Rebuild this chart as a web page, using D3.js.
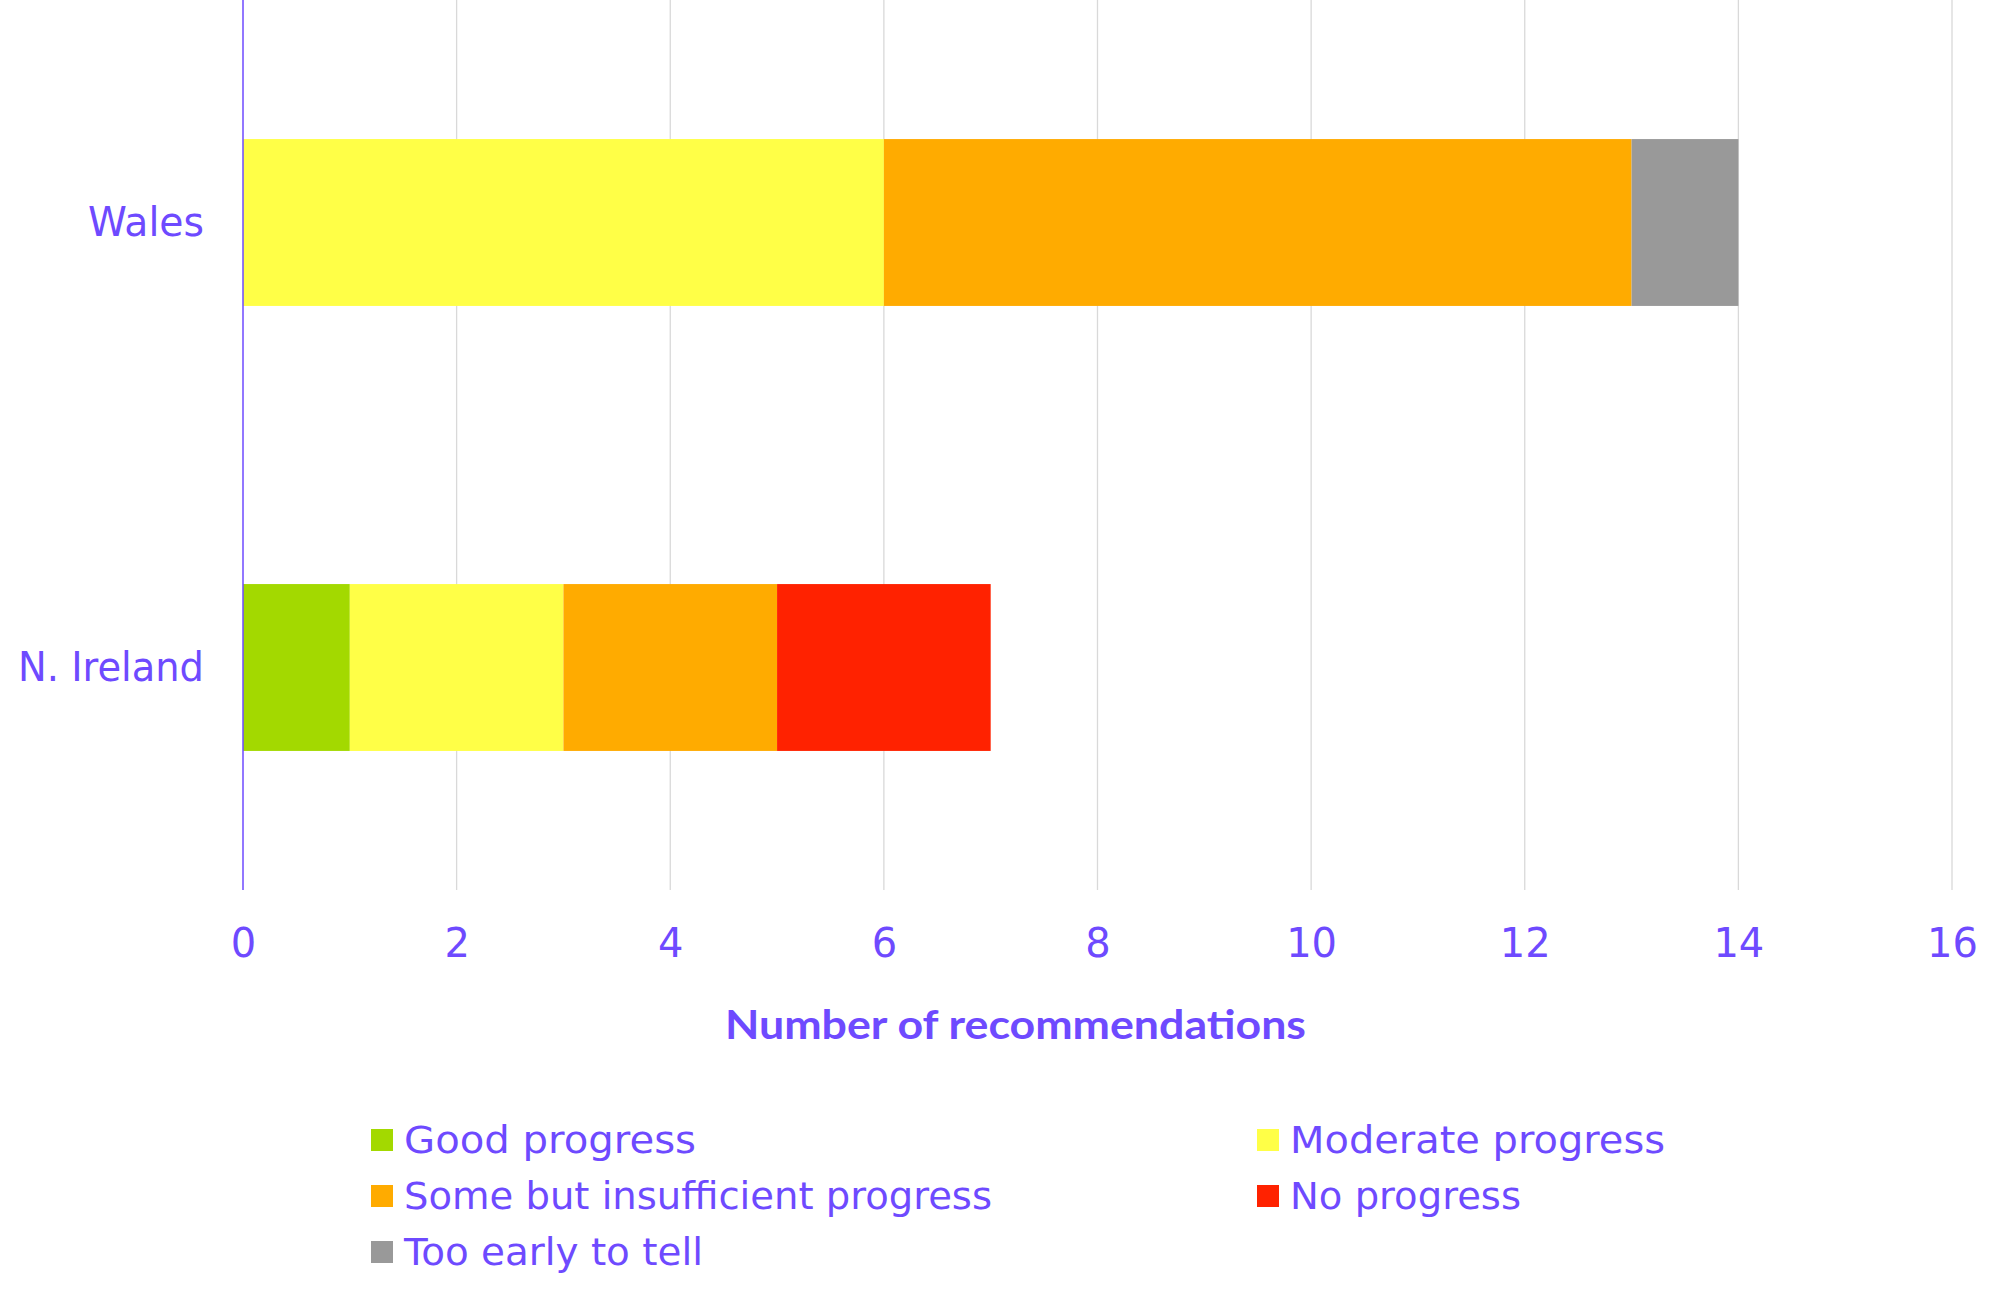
<!DOCTYPE html>
<html>
<head>
<meta charset="utf-8">
<script src="https://cdn.jsdelivr.net/npm/d3@7"></script>
<style>
  html, body { margin: 0; padding: 0; background: #fff; }
  svg { display: block; }
  text { font-family: "DejaVu Sans", "Noto Sans", sans-serif; fill: #6E4AFF; }
</style>
</head>
<body>
<svg id="chart" width="2004" height="1298"></svg>
<script>
// ---- Data ----
const categories = ["Wales", "N. Ireland"];
const seriesNames = ["Good progress", "Moderate progress", "Some but insufficient progress", "No progress", "Too early to tell"];
const seriesColors = ["#A3D900", "#FFFF47", "#FFAB00", "#FF2200", "#999999"];
const goodProgress = [0, 1];
const moderateProgress = [6, 2];
const someProgress = [7, 2];
const noProgress = [0, 2];
const tooEarly = [1, 0];
const xTicks = [0, 2, 4, 6, 8, 10, 12, 14, 16];
const axisTitle = "Number of recommendations";

const seriesValues = [goodProgress, moderateProgress, someProgress, noProgress, tooEarly];
const table = categories.map((c, i) => {
  const row = { category: c };
  seriesNames.forEach((s, j) => row[s] = seriesValues[j][i]);
  return row;
});

const svg = d3.select("#chart");
const margin = { left: 243, top: 0 };
const width = 1709, height = 890;
const g = svg.append("g").attr("transform", `translate(${margin.left},${margin.top})`);

const x = d3.scaleLinear().domain([0, 16]).range([0, width]);
const y = d3.scaleBand().domain(categories).range([0, height]).paddingInner(0.625).paddingOuter(0.3125);

// gridlines
g.append("g").selectAll("line").data(xTicks.filter(d => d !== 0)).join("line")
  .attr("x1", d => x(d)).attr("x2", d => x(d))
  .attr("y1", 0).attr("y2", height)
  .attr("stroke", "#D9D9D9").attr("stroke-width", 1.3);

// bars
const stack = d3.stack().keys(seriesNames);
const stacked = stack(table);
g.append("g").selectAll("g").data(stacked).join("g")
  .attr("fill", (d, i) => seriesColors[i])
  .selectAll("rect").data(d => d).join("rect")
  .attr("x", d => x(d[0]))
  .attr("width", d => x(d[1]) - x(d[0]))
  .attr("y", d => y(d.data.category))
  .attr("height", y.bandwidth());

// vertical axis line
g.append("line").attr("x1", x(0)).attr("x2", x(0)).attr("y1", 0).attr("y2", height)
  .attr("stroke", "#6E4AFF").attr("stroke-width", 1.5);

// x tick labels
const xAxis = d3.axisBottom(x).tickValues(xTicks).tickSize(0).tickPadding(0).tickFormat(d3.format("d"));
const xg = g.append("g").attr("transform", `translate(0,${height})`).call(xAxis);
xg.select(".domain").remove();
xg.selectAll("text").attr("font-size", 40).attr("dy", null).attr("y", 67)
  .style("font-family", '"DejaVu Sans", sans-serif').attr("fill", "#6E4AFF");

// y category labels
const yAxis = d3.axisLeft(y).tickSize(0).tickPadding(39);
const yg = g.append("g").call(yAxis);
yg.select(".domain").remove();
yg.selectAll("text").attr("font-size", 40).attr("dy", "0.34em")
  .attr("fill", "#6E4AFF")
  .style("font-family", '"DejaVu Sans", sans-serif')
  .attr("textLength", d => d === "Wales" ? 116 : 186)
  .attr("lengthAdjust", "spacingAndGlyphs");

// axis title
svg.append("text").attr("x", 1015.5).attr("y", 1039).attr("text-anchor", "middle")
  .style("font-family", 'Lato, "DejaVu Sans", sans-serif')
  .attr("font-size", 40).attr("font-weight", "bold")
  .attr("textLength", 581).attr("lengthAdjust", "spacingAndGlyphs")
  .text(axisTitle);

// legend
const legendPos = [
  { x: 371, y: 1140, w: 292 },
  { x: 1257, y: 1140, w: 375 },
  { x: 371, y: 1196, w: 588 },
  { x: 1257, y: 1196, w: 231 },
  { x: 371, y: 1252, w: 299 }
];
const lg = svg.append("g").selectAll("g").data(seriesNames).join("g")
  .attr("transform", (d, i) => `translate(${legendPos[i].x},${legendPos[i].y})`);
lg.append("rect").attr("x", 0).attr("y", -11).attr("width", 22).attr("height", 22)
  .attr("fill", (d, i) => seriesColors[i]);
lg.append("text").attr("x", 33).attr("y", 0).attr("dy", "0.36em")
  .attr("font-size", 37)
  .attr("textLength", (d, i) => legendPos[i].w).attr("lengthAdjust", "spacingAndGlyphs")
  .text(d => d);
</script>
</body>
</html>
